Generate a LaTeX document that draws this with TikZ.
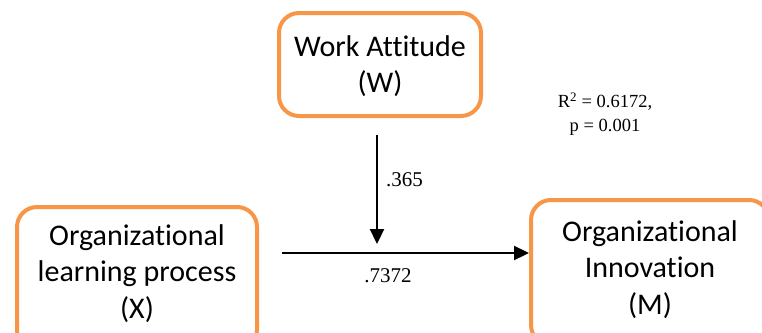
\documentclass[tikz,border=0pt]{standalone}
\usepackage{fontspec}
\setmainfont[Ligatures=NoCommon]{Carlito}
\newfontfamily\numfont{Liberation Serif}
\usetikzlibrary{arrows.meta}
\definecolor{boxorange}{HTML}{F79646}
\begin{document}
\begin{tikzpicture}[x=1pt,y=-1pt,
  varbox/.style={draw=boxorange, line width=4pt, rounded corners=20pt, fill=white, inner sep=0pt},
  vartext/.style={align=center, font=\fontsize{30}{36.5}\selectfont, inner sep=0pt},
  coef/.style={font=\numfont\fontsize{21}{25}\selectfont, inner sep=0pt, align=center},
  fitnote/.style={font=\numfont\fontsize{18.5}{24}\selectfont, inner sep=0pt, align=center},
  path/.style={line width=2.3pt, -{Triangle[length=15pt,width=14pt]}}]
\useasboundingbox (0,0) rectangle (762,332);
\clip (0,0) rectangle (762,332);
% moderator box
\node[varbox, minimum width=202pt, minimum height=103pt] (W) at (380,64.5) {};
\node[vartext] (Wt) at (380,66) {Work Attitude\\(W)};
% predictor box (runs past the lower edge)
\node[varbox, minimum width=240pt, minimum height=143pt] (X) at (137,278.5) {};
\node[vartext] (Xt) at (137,273.5) {Organizational\\learning process\\(X)};
% outcome box (runs past the lower and right edges)
\node[varbox, minimum width=238pt, minimum height=145pt] (M) at (650,272.5) {};
\node[vartext] (Mt) at (650,269.5) {Organizational\\Innovation\\(M)};
% paths
\coordinate (mod) at (377,253);
\draw[path] (X.east |- mod) ++(23,0) coordinate (xs) -- (M.west |- mod);
\draw[path] (W.south -| mod) ++(0,17) coordinate (ws) -- ++(0,109) coordinate (we);
% coefficients
\node[coef, anchor=west] (a) at (386,180) {.365};
\node[coef] (b) at (388,276) {.7372};
\node[fitnote] (r) at (605,114) {R\textsuperscript{2} = 0.6172,\\p = 0.001};
\end{tikzpicture}
\end{document}
